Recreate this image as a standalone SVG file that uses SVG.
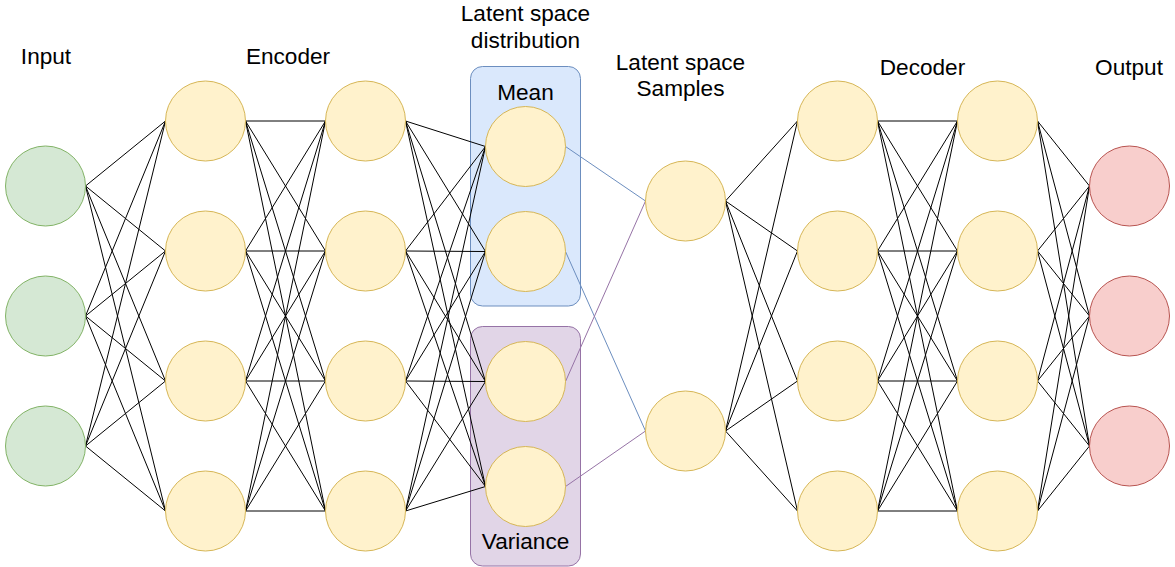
<svg xmlns="http://www.w3.org/2000/svg" width="1175" height="567" viewBox="0 0 1175 567">
<style>
.lbl{font-family:"Liberation Sans",Arial,Helvetica,sans-serif;font-size:22.6px;fill:#000;text-anchor:middle}
.in{fill:#d5e8d4;stroke:#82b366;stroke-width:1}
.hid{fill:#fff2cc;stroke:#d6b656;stroke-width:1}
.out{fill:#f8cecc;stroke:#b85450;stroke-width:1}
.e{stroke:#000;stroke-width:1;fill:none}
.eb{stroke:#6c8ebf;stroke-width:1;fill:none}
.ep{stroke:#9673a6;stroke-width:1;fill:none}
</style>
<rect width="1175" height="567" fill="#ffffff"/>
<g id="mean-box"><rect x="470.5" y="66.5" width="110" height="239.5" rx="12" fill="#dae8fc" stroke="#6c8ebf"/><text class="lbl" x="525.5" y="100">Mean</text></g>
<g id="variance-box"><rect x="470.5" y="326.5" width="110" height="239.5" rx="12" fill="#e1d5e7" stroke="#9673a6"/><text class="lbl" x="525.5" y="549">Variance</text></g>
<g id="connectors">
<path class="e" d="M85.5 186L165.5 121M85.5 186L165.5 251M85.5 186L165.5 381M85.5 186L165.5 511M85.5 316L165.5 121M85.5 316L165.5 251M85.5 316L165.5 381M85.5 316L165.5 511M85.5 446L165.5 121M85.5 446L165.5 251M85.5 446L165.5 381M85.5 446L165.5 511"/>
<path class="e" d="M245.5 121L325.5 121M245.5 121L325.5 251M245.5 121L325.5 381M245.5 121L325.5 511M245.5 251L325.5 121M245.5 251L325.5 251M245.5 251L325.5 381M245.5 251L325.5 511M245.5 381L325.5 121M245.5 381L325.5 251M245.5 381L325.5 381M245.5 381L325.5 511M245.5 511L325.5 121M245.5 511L325.5 251M245.5 511L325.5 381M245.5 511L325.5 511"/>
<path class="e" d="M405.5 121L485.5 146.5M405.5 121L485.5 251.5M405.5 121L485.5 381.5M405.5 121L485.5 486.5M405.5 251L485.5 146.5M405.5 251L485.5 251.5M405.5 251L485.5 381.5M405.5 251L485.5 486.5M405.5 381L485.5 146.5M405.5 381L485.5 251.5M405.5 381L485.5 381.5M405.5 381L485.5 486.5M405.5 511L485.5 146.5M405.5 511L485.5 251.5M405.5 511L485.5 381.5M405.5 511L485.5 486.5"/>
<path class="eb" d="M565.5 146.5L645.5 201M565.5 251.5L645.5 431"/>
<path class="ep" d="M565.5 381.5L645.5 201M565.5 486.5L645.5 431"/>
<path class="e" d="M725.5 201L797.5 121M725.5 201L797.5 251M725.5 201L797.5 381M725.5 201L797.5 511M725.5 431L797.5 121M725.5 431L797.5 251M725.5 431L797.5 381M725.5 431L797.5 511"/>
<path class="e" d="M877.5 121L957.5 121M877.5 121L957.5 251M877.5 121L957.5 381M877.5 121L957.5 511M877.5 251L957.5 121M877.5 251L957.5 251M877.5 251L957.5 381M877.5 251L957.5 511M877.5 381L957.5 121M877.5 381L957.5 251M877.5 381L957.5 381M877.5 381L957.5 511M877.5 511L957.5 121M877.5 511L957.5 251M877.5 511L957.5 381M877.5 511L957.5 511"/>
<path class="e" d="M1037.5 121L1089.5 186M1037.5 121L1089.5 316M1037.5 121L1089.5 446M1037.5 251L1089.5 186M1037.5 251L1089.5 316M1037.5 251L1089.5 446M1037.5 381L1089.5 186M1037.5 381L1089.5 316M1037.5 381L1089.5 446M1037.5 511L1089.5 186M1037.5 511L1089.5 316M1037.5 511L1089.5 446"/>
</g>
<g id="input-nodes"><circle id="in1" class="in" cx="45.5" cy="186" r="40"/><circle id="in2" class="in" cx="45.5" cy="316" r="40"/><circle id="in3" class="in" cx="45.5" cy="446" r="40"/></g>
<g id="encoder-1"><circle class="hid" cx="205.5" cy="121" r="40"/><circle class="hid" cx="205.5" cy="251" r="40"/><circle class="hid" cx="205.5" cy="381" r="40"/><circle class="hid" cx="205.5" cy="511" r="40"/></g>
<g id="encoder-2"><circle class="hid" cx="365.5" cy="121" r="40"/><circle class="hid" cx="365.5" cy="251" r="40"/><circle class="hid" cx="365.5" cy="381" r="40"/><circle class="hid" cx="365.5" cy="511" r="40"/></g>
<g id="mean-nodes"><circle class="hid" cx="525.5" cy="146.5" r="40"/><circle class="hid" cx="525.5" cy="251.5" r="40"/></g>
<g id="variance-nodes"><circle class="hid" cx="525.5" cy="381.5" r="40"/><circle class="hid" cx="525.5" cy="486.5" r="40"/></g>
<g id="latent-samples"><circle class="hid" cx="685.5" cy="201" r="40"/><circle class="hid" cx="685.5" cy="431" r="40"/></g>
<g id="decoder-1"><circle class="hid" cx="837.5" cy="121" r="40"/><circle class="hid" cx="837.5" cy="251" r="40"/><circle class="hid" cx="837.5" cy="381" r="40"/><circle class="hid" cx="837.5" cy="511" r="40"/></g>
<g id="decoder-2"><circle class="hid" cx="997.5" cy="121" r="40"/><circle class="hid" cx="997.5" cy="251" r="40"/><circle class="hid" cx="997.5" cy="381" r="40"/><circle class="hid" cx="997.5" cy="511" r="40"/></g>
<g id="output-nodes"><circle class="out" cx="1129.5" cy="186" r="40"/><circle class="out" cx="1129.5" cy="316" r="40"/><circle class="out" cx="1129.5" cy="446" r="40"/></g>
<g id="labels">
<text class="lbl" x="46" y="64">Input</text>
<text class="lbl" x="288" y="64">Encoder</text>
<text class="lbl" x="525.5" y="21">Latent space</text>
<text class="lbl" x="525.5" y="47.5">distribution</text>
<text class="lbl" x="680.5" y="69.5">Latent space</text>
<text class="lbl" x="680.5" y="95.5">Samples</text>
<text class="lbl" x="922.5" y="75">Decoder</text>
<text class="lbl" x="1129" y="75">Output</text>
</g>
</svg>
